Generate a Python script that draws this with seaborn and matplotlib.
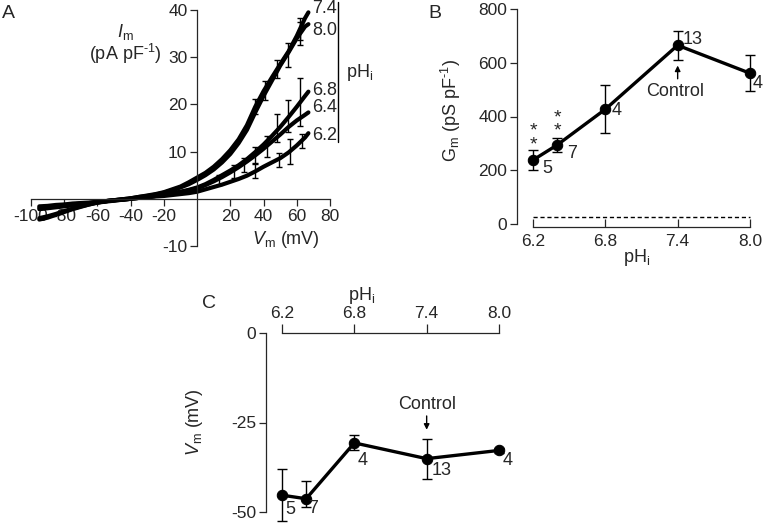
import numpy as np
import pandas as pd
import matplotlib
matplotlib.use("Agg")
import matplotlib.pyplot as plt
import seaborn as sns

sns.set_style("ticks")
plt.rcParams["font.family"] = ["Liberation Sans", "DejaVu Sans"]
plt.rcParams["mathtext.fontset"] = "custom"
plt.rcParams["mathtext.rm"] = "Liberation Sans"
plt.rcParams["mathtext.it"] = "Liberation Sans:italic"
plt.rcParams["axes.unicode_minus"] = False

# ---------------- data ----------------
# Panel A: I-V curves (mV, pA/pF)
V_A = [-95, -90, -85, -80, -75, -70, -65, -60, -55, -50, -45, -40, -35, -30, -25,
       -20, -15, -10, -5, 0, 5, 10, 15, 20, 25, 30, 35, 40, 45, 50, 55, 60, 65, 67]
I_74 = [-4.4, -4.0, -3.4, -2.8, -2.2, -1.7, -1.2, -0.8, -0.5, -0.3, -0.1, 0.1, 0.4, 0.7, 1.0,
        1.4, 2.0, 2.6, 3.5, 4.5, 5.5, 6.8, 8.4, 10.3, 12.6, 15.6, 19.5, 22.8, 25.7, 28.5, 31.2, 34.5, 38.3, 39.5]
I_80 = [-4.1, -3.7, -3.2, -2.6, -2.1, -1.6, -1.2, -0.8, -0.5, -0.3, -0.1, 0.1, 0.4, 0.6, 0.9,
        1.3, 1.8, 2.4, 3.1, 4.0, 5.0, 6.2, 7.7, 9.5, 11.8, 14.6, 18.3, 21.8, 25.0, 28.2, 31.0, 34.0, 36.5, 37.0]
I_68 = [-2.2, -2.0, -1.8, -1.6, -1.4, -1.2, -1.0, -0.8, -0.6, -0.4, -0.2, 0.0, 0.2, 0.4, 0.6,
        0.9, 1.2, 1.5, 1.9, 2.4, 3.1, 4.0, 5.0, 6.0, 7.1, 8.4, 9.9, 11.5, 13.3, 15.2, 17.3, 19.5, 21.8, 22.7]
I_64 = [-1.9, -1.7, -1.5, -1.3, -1.2, -1.0, -0.9, -0.7, -0.5, -0.3, -0.2, 0.0, 0.2, 0.4, 0.6,
        0.8, 1.1, 1.4, 1.8, 2.2, 2.9, 3.7, 4.6, 5.6, 6.7, 7.9, 9.2, 10.6, 12.1, 13.6, 15.2, 16.6, 17.8, 18.3]
I_62 = [-1.6, -1.5, -1.3, -1.2, -1.0, -0.9, -0.8, -0.6, -0.5, -0.3, -0.2, 0.0, 0.2, 0.3, 0.5,
        0.6, 0.8, 1.0, 1.2, 1.5, 2.0, 2.5, 3.0, 3.6, 4.2, 4.9, 5.8, 6.8, 7.7, 8.6, 9.8, 11.3, 13.0, 13.9]
curve_labels = ["7.4", "8.0", "6.8", "6.4", "6.2"]
curve_label_I = [40.4, 35.6, 22.9, 19.4, 13.5]

# error bars on the I-V curves
eb_V = [35, 48, 62, 41, 55, 62, 48, 55, 62, 13, 22, 28, 35, 42, 35, 49, 56, 63]
eb_I = [19.5, 27.5, 36.0, 23.0, 30.5, 35.0, 15.0, 17.5, 20.5, 4.0, 5.8, 7.2, 9.2, 11.0, 6.0, 8.3, 10.0, 12.2]
eb_E = [1.6, 2.0, 2.4, 2.0, 2.5, 2.5, 2.9, 3.4, 5.0, 1.1, 1.3, 1.5, 1.8, 2.2, 1.6, 1.5, 2.6, 1.5]

# Panel B: conductance vs pHi
pH = [6.2, 6.4, 6.8, 7.4, 8.0]
Gm = [238, 294, 427, 665, 561]
Gm_err = [38, 25, 90, 54, 67]
Gm_n = ["5", "7", "4", "13", "4"]
Gm_baseline = 25

# Panel C: membrane potential vs pHi
Vm = [-45.3, -46.3, -30.7, -35.1, -32.8]
Vm_err_low = [7.3, 2.3, 2.1, 5.6, 0.8]
Vm_err_high = [7.3, 5.0, 2.1, 5.4, 0.8]
Vm_n = ["5", "7", "4", "13", "4"]

W, H = 764, 523
fig = plt.figure(figsize=(W / 100, H / 100), dpi=100)
FS = 12.5
TS = 13
LW_SP = 0.9
INV = r"$^{\text{-1}}$"

def rect(x0, y0, x1, y1):
    return [x0 / W, 1 - y1 / H, (x1 - x0) / W, (y1 - y0) / H]

# ---------------- Panel A ----------------
axA = fig.add_axes(rect(31, 10, 330, 246))
dfA = pd.concat([
    pd.DataFrame({"V": V_A, "I": vals, "pH": lab})
    for lab, vals in zip(curve_labels, [I_74, I_80, I_68, I_64, I_62])
])
sns.lineplot(data=dfA, x="V", y="I", hue="pH", palette=["black"] * 5, legend=False,
             estimator=None, sort=False, lw=3.0, ax=axA)
axA.errorbar(eb_V, eb_I, yerr=eb_E, fmt="none", ecolor="black", elinewidth=1.0, capsize=2.5, capthick=1.0)
axA.set_xlim(-100, 80)
axA.set_ylim(-10, 40)
for s in ["top", "right"]:
    axA.spines[s].set_visible(False)
axA.spines["left"].set_position(("data", 0))
axA.spines["bottom"].set_position(("data", 0))
for s in ["left", "bottom"]:
    axA.spines[s].set_linewidth(LW_SP)
axA.set_xticks([-100, -80, -60, -40, -20, 20, 40, 60, 80])
axA.set_xticklabels(["-100", "-80", "-60", "-40", "-20", "20", "40", "60", "80"])
axA.set_yticks([-10, 10, 20, 30, 40])
axA.set_yticklabels(["-10", "10", "20", "30", "40"])
axA.tick_params(direction="out", length=5, width=LW_SP, labelsize=FS, pad=2)
axA.set_xlabel("")
axA.set_ylabel("")
for lab, yv in zip(curve_labels, curve_label_I):
    axA.text(69.5, yv, lab, fontsize=TS, ha="left", va="center", clip_on=False)
axA.plot([85.1, 85.1], [41.8, 12.1], color="black", lw=1.0, clip_on=False)
axA.text(89.5, 26.7, r"pH$_{\mathrm{i}}$", fontsize=TS, ha="left", va="center", clip_on=False)
axA.text(-43, 35.3, r"$\mathit{I}_{\mathrm{m}}$", fontsize=TS, ha="center", va="center")
axA.text(-43, 30.6, "(pA pF" + INV + ")", fontsize=TS, ha="center", va="center")
axA.text(53.5, -8.7, r"$\mathit{V}_{\mathrm{m}}$ (mV)", fontsize=TS, ha="center", va="center")

# ---------------- Panel B ----------------
axB = fig.add_axes(rect(517, 9, 756, 224))
sns.lineplot(x=pH, y=Gm, color="black", lw=2.4, marker="o", markersize=7.5,
             markeredgecolor="black", ax=axB)
axB.errorbar(pH, Gm, yerr=Gm_err, fmt="none", ecolor="black", elinewidth=1.0, capsize=3.5, capthick=1.0)
axB.plot([6.2, 8.0], [Gm_baseline, Gm_baseline], color="black", lw=1.0, ls=(0, (3, 2)))
axB.set_xlim(6.067, 8.05)
axB.set_ylim(0, 800)
for s in ["top", "right"]:
    axB.spines[s].set_visible(False)
axB.spines["left"].set_bounds(0, 800)
axB.spines["bottom"].set_bounds(6.2, 8.0)
axB.spines["bottom"].set_position(("outward", 2))
for s in ["left", "bottom"]:
    axB.spines[s].set_linewidth(LW_SP)
axB.set_xticks(pH[:1] + pH[2:])
axB.set_xticklabels(["6.2", "6.8", "7.4", "8.0"])
axB.set_yticks([0, 200, 400, 600, 800])
axB.tick_params(axis="x", direction="in", length=6, width=LW_SP, labelsize=FS, pad=5)
axB.tick_params(axis="y", direction="out", length=5, width=LW_SP, labelsize=FS, pad=2)
axB.set_xlabel(r"pH$_{\mathrm{i}}$", fontsize=TS, labelpad=-1)
axB.set_ylabel(r"G$_{\mathrm{m}}$ (pS pF" + INV + ")", fontsize=TS)
axB.yaxis.set_label_coords(-0.225, 0.53)
n_off_B = [(0.115, -33), (0.12, -31), (0.095, -3), (0.128, 22), (0.065, -38)]
for x, y, t, (dx, dy) in zip(pH, Gm, Gm_n, n_off_B):
    axB.text(x + dx, y + dy, t, fontsize=TS, ha="center", va="center", clip_on=False)
axB.text(6.2, 319, "*\n*", fontsize=14, ha="center", va="center", linespacing=0.75)
axB.text(6.4, 370, "*\n*", fontsize=14, ha="center", va="center", linespacing=0.75)
axB.annotate("", xy=(7.4, 600), xytext=(7.4, 530),
             arrowprops=dict(arrowstyle="-|>", color="black", lw=1.0, mutation_scale=8))
axB.text(7.38, 492, "Control", fontsize=TS, ha="center", va="center")

# ---------------- Panel C ----------------
axC = fig.add_axes(rect(266, 333, 505, 512))
sns.lineplot(x=pH, y=Vm, color="black", lw=2.4, marker="o", markersize=7.5,
             markeredgecolor="black", ax=axC)
ebc = axC.errorbar(pH, Vm, yerr=[Vm_err_low, Vm_err_high], fmt="none", ecolor="black",
                   elinewidth=1.0, capsize=3.5, capthick=1.0)
for child in ebc.get_children():
    child.set_clip_on(False)
axC.set_xlim(6.067, 8.05)
axC.set_ylim(-50, 0)
for s in ["bottom", "right"]:
    axC.spines[s].set_visible(False)
axC.spines["left"].set_bounds(-50, 0)
axC.spines["top"].set_bounds(6.2, 8.0)
for s in ["left", "top"]:
    axC.spines[s].set_linewidth(LW_SP)
axC.xaxis.tick_top()
axC.set_xticks(pH[:1] + pH[2:])
axC.set_xticklabels(["6.2", "6.8", "7.4", "8.0"])
axC.set_yticks([0, -25, -50])
axC.set_yticklabels(["0", "-25", "-50"])
axC.tick_params(axis="x", direction="out", length=6.5, width=LW_SP, labelsize=FS, pad=2)
axC.tick_params(axis="y", direction="out", length=5, width=LW_SP, labelsize=FS, pad=2)
axC.set_xlabel("")
axC.set_ylabel(r"$\mathit{V}_{\mathrm{m}}$ (mV)", fontsize=TS)
axC.yaxis.set_label_coords(-0.255, 0.5)
axC.text(6.86, 10.6, r"pH$_{\mathrm{i}}$", fontsize=TS, ha="center", va="center", clip_on=False)
n_off_C = [(0.066, -4.0), (0.057, -2.7), (0.07, -5.0), (0.125, -3.2), (0.075, -2.9)]
for x, y, t, (dx, dy) in zip(pH, Vm, Vm_n, n_off_C):
    axC.text(x + dx, y + dy, t, fontsize=TS, ha="center", va="center", clip_on=False)
axC.annotate("", xy=(7.4, -27.8), xytext=(7.4, -22.4),
             arrowprops=dict(arrowstyle="-|>", color="black", lw=1.0, mutation_scale=8))
axC.text(7.4, -19.9, "Control", fontsize=TS, ha="center", va="center")

# ---------------- panel letters ----------------
fig.text(2 / W, 1 - 13 / H, "A", fontsize=14, ha="left", va="center")
fig.text(428 / W, 1 - 13 / H, "B", fontsize=14, ha="left", va="center")
fig.text(202 / W, 1 - 303 / H, "C", fontsize=14, ha="left", va="center")

fig.savefig("out.png", dpi=100)
